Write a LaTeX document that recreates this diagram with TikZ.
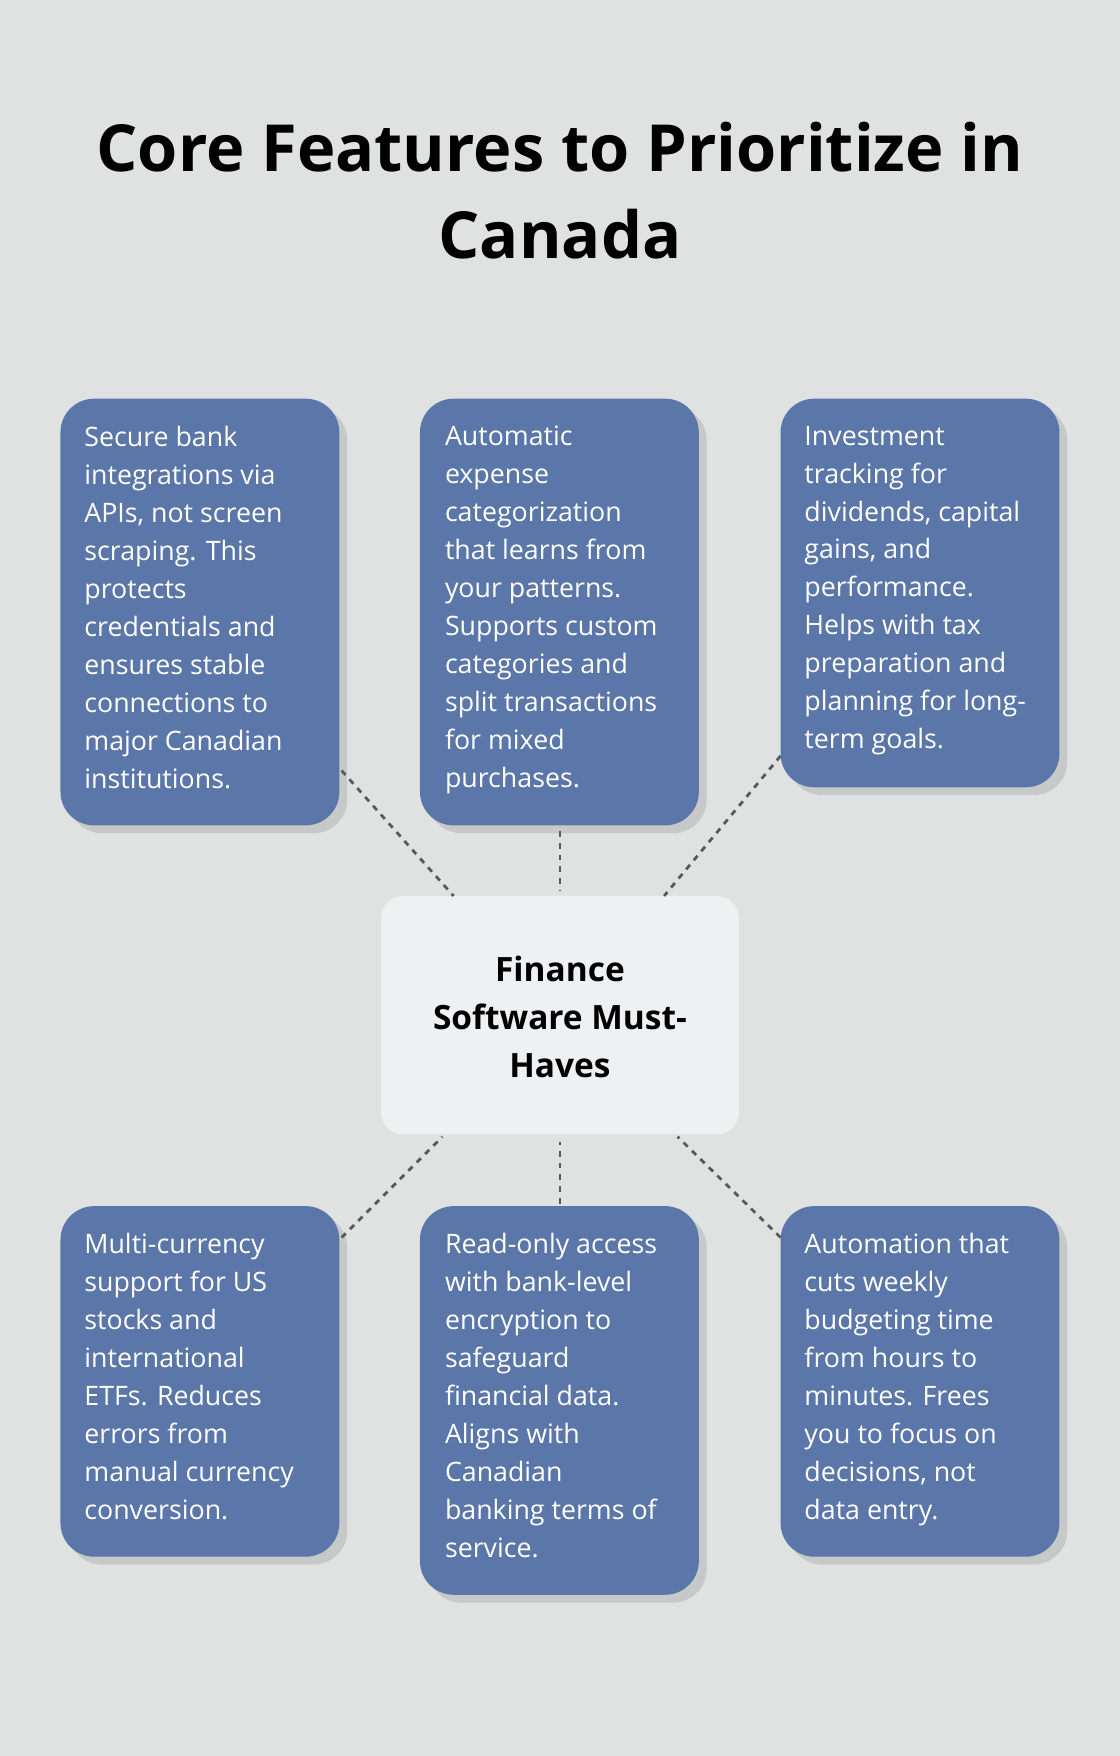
\documentclass[tikz,border=0pt]{standalone}
\usepackage{fontspec}
\setmainfont{Open Sans}
\usetikzlibrary{shadows}
\definecolor{bgcol}{HTML}{E0E2E1}
\definecolor{boxcol}{HTML}{5B76A8}
\definecolor{hubcol}{HTML}{EEF0F1}
\tikzset{
  card/.style={draw=none, fill=boxcol, rounded corners=30*0.02cm,
    drop shadow={shadow xshift=4pt, shadow yshift=-4pt, opacity=0.25}},
  txt/.style={anchor=north west, align=left, text=white, font=\fontsize{13.6}{19.3}\selectfont, inner sep=0pt},
  link/.style={draw=black!65, line width=1.4pt, dash pattern=on 3pt off 3pt}
}
\begin{document}
\begin{tikzpicture}[x=0.02cm, y=-0.02cm]
\fill[bgcol] (0,0) rectangle (1000,1568);
\useasboundingbox (0,0) rectangle (1000,1568);
\node[font=\bfseries\fontsize{33}{44}\selectfont, align=center] (title) at (500,170) {Core Features to Prioritize in\\Canada};

% cards
\fill[card] (54,356) rectangle (303,737);
\fill[card] (375,356) rectangle (624,737);
\fill[card] (697,356) rectangle (946,703);
\fill[card] (54,1077) rectangle (303,1390);
\fill[card] (375,1077) rectangle (624,1424);
\fill[card] (697,1077) rectangle (946,1390);
\node[txt] (t1) at (75,380) {Secure bank\\integrations via\\APIs, not screen\\scraping. This\\protects\\credentials and\\ensures stable\\connections to\\major Canadian\\institutions.};
\node[txt] (t2) at (397,380) {Automatic\\expense\\categorization\\that learns from\\your patterns.\\Supports custom\\categories and\\split transactions\\for mixed\\purchases.};
\node[txt] (t3) at (718,380) {Investment\\tracking for\\dividends, capital\\gains, and\\performance.\\Helps with tax\\preparation and\\planning for long-\\term goals.};
\node[txt] (t4) at (75,1101) {Multi-currency\\support for US\\stocks and\\international\\ETFs. Reduces\\errors from\\manual currency\\conversion.};
\node[txt] (t5) at (397,1101) {Read-only access\\with bank-level\\encryption to\\safeguard\\financial data.\\Aligns with\\Canadian\\banking terms of\\service.};
\node[txt] (t6) at (718,1101) {Automation that\\cuts weekly\\budgeting time\\from hours to\\minutes. Frees\\you to focus on\\decisions, not\\data entry.};

% hub
\fill[hubcol, rounded corners=20*0.02cm] (340,800) rectangle (660,1013);
\node[font=\bfseries\fontsize{17}{24.5}\selectfont, align=center] (hub) at (500,908) {Finance\\Software Must-\\Haves};

% connectors
\coordinate (a1) at (305,688); \coordinate (b1) at (405,800);
\coordinate (a2) at (500,742); \coordinate (b2) at (500,795);
\coordinate (a3) at (697,675); \coordinate (b3) at (593,800);
\coordinate (a4) at (305,1105); \coordinate (b4) at (395,1015);
\coordinate (a5) at (500,1075); \coordinate (b5) at (500,1020);
\coordinate (a6) at (697,1105); \coordinate (b6) at (605,1015);
\foreach \i in {1,...,6} \draw[link] (a\i) -- (b\i);
\end{tikzpicture}
\end{document}
